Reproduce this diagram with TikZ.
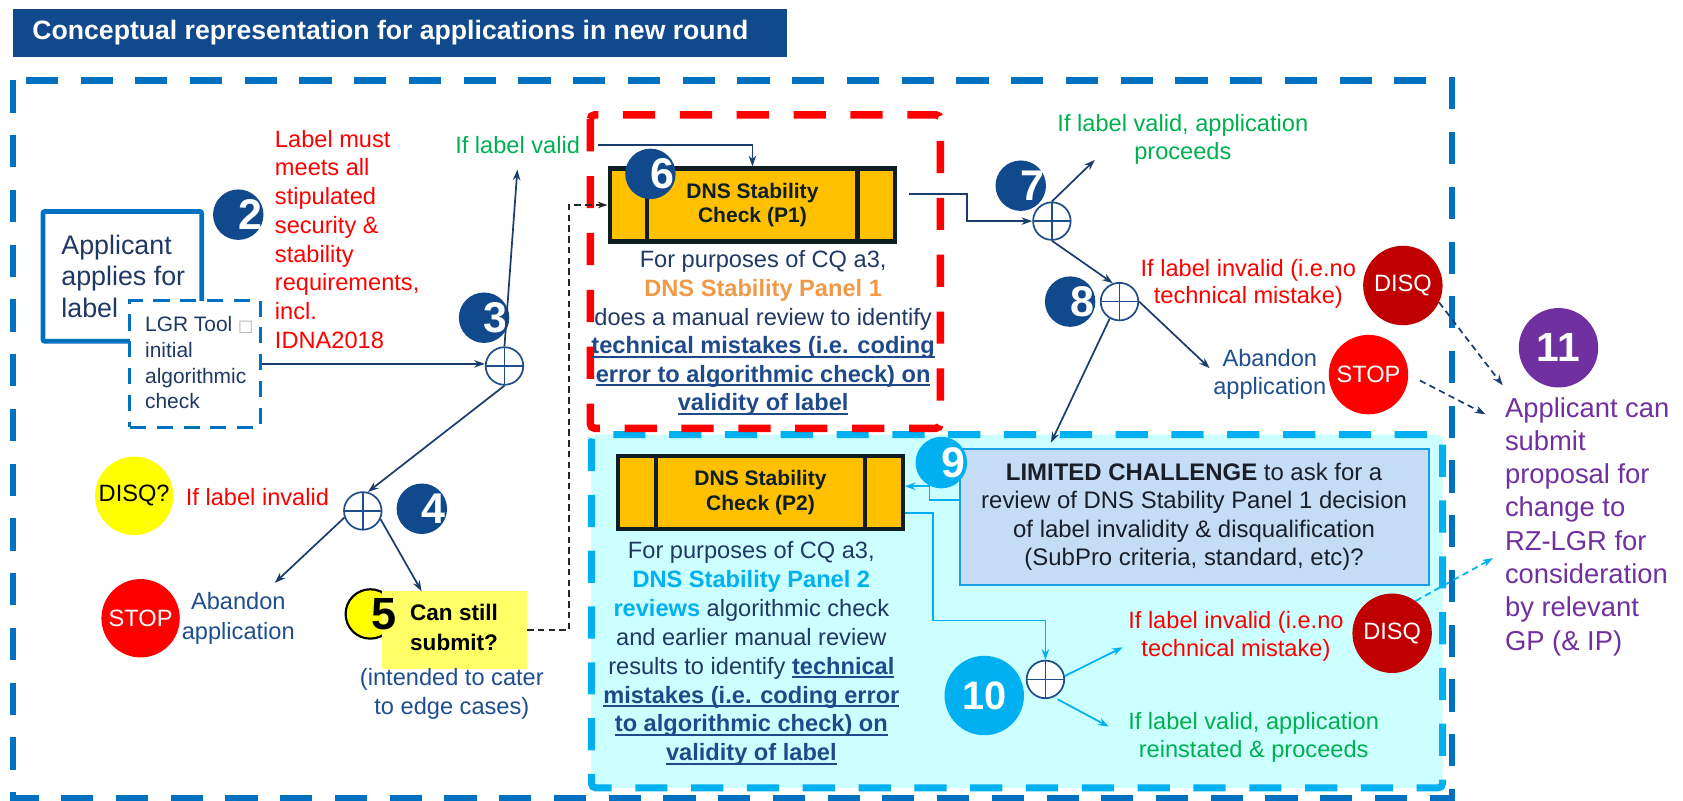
\documentclass[tikz,border=0pt]{standalone}
\usepackage{fontspec}
\setmainfont{Liberation Sans}
\newfontfamily\symfont{DejaVu Sans}
\usetikzlibrary{arrows.meta}
\definecolor{navyb}{HTML}{114A8C}
\definecolor{outerblue}{HTML}{0070C0}
\definecolor{txtnavy}{HTML}{1F3864}
\definecolor{txtblue}{HTML}{1F4E8C}
\definecolor{ulblue}{HTML}{1F4A8A}
\definecolor{redc}{HTML}{FF0000}
\definecolor{greenc}{HTML}{00B050}
\definecolor{orangec}{HTML}{F09A48}
\definecolor{purplec}{HTML}{7030A0}
\definecolor{cyanc}{HTML}{00B0F0}
\definecolor{cyanfill}{HTML}{CCFFFF}
\definecolor{lcfill}{HTML}{C5DDF4}
\definecolor{lcborder}{HTML}{1A9FE6}
\definecolor{lctext}{HTML}{1A1E28}
\definecolor{darkred}{HTML}{C00000}
\definecolor{yellowc}{HTML}{FFFF00}
\definecolor{yellowbox}{HTML}{FFFF66}
\definecolor{goldc}{HTML}{FFC000}
\definecolor{pborder}{HTML}{0E1E22}
\definecolor{arrownavy}{HTML}{1B3D6E}
\definecolor{opblue}{HTML}{1F4E8C}
\newcommand\fs[2]{\fontsize{#1}{#2}\selectfont}
\newcommand\myul[1]{\leavevmode\setbox0=\hbox{#1}\rlap{\rule[-3.6pt]{\wd0}{1.6pt}}\box0}
\begin{document}
\begin{tikzpicture}[x=1pt,y=-1pt,
  txt/.style={inner sep=0pt, font=\fs{22}{26.8}},
  bdg/.style={circle, fill=navyb, minimum size=47pt, inner sep=0pt},
  bdgcy/.style={circle, fill=cyanc, minimum size=48pt, inner sep=0pt},
  bdgnum/.style={inner sep=0pt, text=white, font=\bfseries\fs{40}{40}},
  bigbdg/.style={circle, minimum size=74pt, inner sep=0pt, text=white, font=\bfseries\fs{38}{38}},
  opl/.style={circle, draw=opblue, line width=1.6pt, fill=white, minimum size=35pt, inner sep=0pt,
    path picture={\draw[opblue, line width=1.6pt] (path picture bounding box.north) -- (path picture bounding box.south) (path picture bounding box.west) -- (path picture bounding box.east);}},
  sign/.style={circle, minimum size=73pt, inner sep=0pt, text=white, font=\fs{22}{22}},
  pbox/.style={draw=pborder, line width=4pt, fill=goldc, minimum width=266pt, minimum height=68pt, inner sep=0pt,
    align=center, text=pborder, font=\bfseries\fs{19.6}{23},
    path picture={\draw[pborder, line width=4pt] ([xshift=35pt]path picture bounding box.south west) -- ([xshift=35pt]path picture bounding box.north west) ([xshift=-35pt]path picture bounding box.south east) -- ([xshift=-35pt]path picture bounding box.north east);}},
  arr/.style={draw=arrownavy, line width=1.6pt, -{Stealth[length=10pt,width=7pt]}},
  carr/.style={draw=cyanc, line width=1.6pt, -{Stealth[length=10pt,width=7pt]}},
  darr/.style={draw=arrownavy, line width=1.6pt, dash pattern=on 6pt off 4pt, -{Stealth[length=10pt,width=7pt]}},
  cdarr/.style={draw=cyanc, line width=1.6pt, dash pattern=on 6pt off 4pt, -{Stealth[length=10pt,width=7pt]}},
  kdarr/.style={draw=black!85, line width=1.5pt, dash pattern=on 6pt off 4pt, -{Stealth[length=9pt,width=6pt]}},
]
\useasboundingbox (0,0) rectangle (1568,746);
% title
\node[fill=navyb, anchor=north west, minimum width=721pt, minimum height=45pt, inner sep=0pt] (titlebox) at (12,8) {};
\node[anchor=west, inner sep=0pt, text=white, font=\bfseries\fs{24.8}{24.8}] (title) at (30,30.5) {Conceptual representation for applications in new round};
% regions
\draw[outerblue, line width=6pt, dash pattern=on 30pt off 21pt] (12,75) rectangle (1353,744);
\draw[cyanc, fill=cyanfill, line width=6.5pt, dash pattern=on 30pt off 22pt, rounded corners=4pt] (551,405) rectangle (1344,734);
\draw[redc, line width=7pt, dash pattern=on 30pt off 23pt, rounded corners=4pt] (550,107) rectangle (876,399);
% left part
\node[draw=outerblue, line width=4.5pt, rounded corners=2pt, minimum width=148pt, minimum height=121pt] (app) at (114,257.5) {};
\node[txt, anchor=west, align=left, text=txtnavy, font=\fs{25}{29.5}] (apptxt) at (57,257.5) {Applicant\\applies for\\label};
\node[draw=outerblue, fill=white, line width=3pt, dash pattern=on 15pt off 10pt, minimum width=122pt, minimum height=118pt] (lgr) at (182,339) {};
\node[txt, anchor=west, align=left, text=txtnavy, font=\fs{19.5}{24}] (lgrtxt) at (135,338) {LGR Tool {\symfont\fs{15}{15}\color{gray!60}□}\\initial\\algorithmic\\check};
\node[txt, anchor=west, align=left, text=redc] (req) at (256,223) {Label must\\meets all\\stipulated\\security \&\\stability\\requirements,\\incl.\\IDNA2018};
\node[txt, anchor=west, text=greenc] (ilv1) at (424,135) {If label valid};
\node[opl] (o3) at (470,341) {};
\node[opl] (o4) at (338,476) {};
\node[sign, fill=yellowc, text=black] (disqq) at (125,462) {DISQ?};
\node[txt, anchor=west, text=redc] (ili1) at (173,463) {If label invalid};
\node[sign, fill=redc] (stop1) at (131,576) {STOP};
\node[txt, align=center, text=txtblue, font=\fs{22}{28}] (ab1) at (222,576) {Abandon\\application};
\node[circle, draw=black, line width=2pt, fill=yellowc, minimum size=46pt, inner sep=0pt] (c5) at (345,572) {};
\node[fill=yellowbox, minimum width=135pt, minimum height=72pt, inner sep=0pt] (yb) at (423.5,587) {};
\node[inner sep=0pt, font=\bfseries\fs{42}{42}] (c5n) at (358,572) {5};
\node[txt, align=center, font=\bfseries\fs{21}{28}] (ybtxt) at (423,585) {Can still\\submit?};
\node[txt, align=center, text=txtblue, font=\fs{22}{27}] (intd) at (421,646.5) {(intended to cater\\to edge cases)};
% P1
\node[pbox] (p1) at (701,191) {DNS Stability\\Check (P1)};
\node[txt, align=center, text=txtnavy, font=\fs{22}{26.6}] (p1d) at (711,310.5) {For purposes of CQ a3,\\{\bfseries\color{orangec}DNS Stability Panel 1}\\does a manual review to identify\\{\bfseries\color{ulblue}\myul{technical mistakes (i.e. coding}}\\{\bfseries\color{ulblue}\myul{error to algorithmic check) on}}\\{\bfseries\color{ulblue}\myul{validity of label}}};
% right top
\node[opl] (o7) at (980,206) {};
\node[txt, align=center, text=greenc, font=\fs{22}{26}] (ilv2) at (1102,130) {If label valid, application\\proceeds};
\node[opl] (o8) at (1043,281) {};
\node[txt, align=center, text=redc, font=\fs{22}{25}] (ili2) at (1163,264.5) {If label invalid (i.e.no\\technical mistake)};
\node[txt, align=center, text=txtblue, font=\fs{22}{26}] (ab2) at (1183,349) {Abandon\\application};
\node[sign, fill=darkred, minimum size=74pt] (disq1) at (1307,266) {DISQ};
\node[sign, fill=redc, minimum size=74pt] (stop2) at (1275,349) {STOP};
\node[bigbdg, fill=purplec] (b11) at (1452,324) {11};
\node[txt, anchor=west, align=left, text=purplec, font=\fs{25.5}{31}] (purp) at (1402,490.5) {Applicant can\\submit\\proposal for\\change to\\RZ-LGR for\\consideration\\by relevant\\GP (\& IP)};
% cyan region
\node[pbox, minimum width=265pt] (p2) at (708.5,459) {DNS Stability\\Check (P2)};
\node[txt, align=center, text=txtnavy, font=\fs{22}{26.86}] (p2d) at (700,609) {For purposes of CQ a3,\\{\bfseries\color{cyanc}DNS Stability Panel 2}\\{\bfseries\color{cyanc}reviews} algorithmic check\\and earlier manual review\\results to identify {\bfseries\color{ulblue}\myul{technical}}\\{\bfseries\color{ulblue}\myul{mistakes (i.e. coding error}}\\{\bfseries\color{ulblue}\myul{to algorithmic check) on}}\\{\bfseries\color{ulblue}\myul{validity of label}}};
\node[draw=lcborder, line width=2pt, fill=lcfill, minimum width=437pt, minimum height=127pt, inner sep=0pt, align=center, text=lctext, font=\fs{22.3}{26.3}] (lc) at (1112.5,481.5) {{\bfseries LIMITED CHALLENGE} to ask for a\\review of DNS Stability Panel 1 decision\\of label invalidity \& disqualification\\(SubPro criteria, standard, etc)?};
\node[opl] (o10) at (974,633) {};
\node[bigbdg, fill=cyanc, font=\bfseries\fs{37}{37}] (b10) at (917,648) {10};
\node[txt, align=center, text=redc, font=\fs{22}{26}] (ili3) at (1151.5,593) {If label invalid (i.e.no\\technical mistake)};
\node[sign, fill=darkred, minimum size=74pt] (disq2) at (1297,590) {DISQ};
\node[txt, align=center, text=greenc, font=\fs{22}{26}] (ilv3) at (1168,687) {If label valid, application\\reinstated \& proceeds};
% badges
\node[bdg] (b2) at (222,200) {};
\node[bdgnum] (b2n) at (233,200) {2};
\node[bdg] (b3) at (451,296) {};
\node[bdgnum] (b3n) at (462,296) {3};
\node[bdg] (b4) at (393,474) {};
\node[bdgnum] (b4n) at (404,474) {4};
\node[bdg] (b6) at (606,162) {};
\node[bdgnum] (b6n) at (617,162) {6};
\node[bdg] (b7) at (951,173) {};
\node[bdgnum] (b7n) at (962,173) {7};
\node[bdg] (b8) at (997,281) {};
\node[bdgnum] (b8n) at (1008,281) {8};
\node[bdgcy] (b9) at (877,431) {};
\node[bdgnum] (b9n) at (888,431) {9};
% connector end points
\coordinate (tipA) at (482,158);
\coordinate (tipB) at (1020,149);
\coordinate (tipC) at (1127,343);
\coordinate (tipE) at (256,543);
\coordinate (tipF) at (1046,603);
\coordinate (tipG) at (1033,677);
\coordinate (t11a) at (1400,359);
\coordinate (t11b) at (1384,386);
\coordinate (t11c) at (1391,520);
% connectors
\draw[arr] (lgr.east) -- (lgr.east -| o3.west);
\draw[arr] (o3.north) -- (tipA);
\draw[arr] ([xshift=17pt]ilv1.east) -| (p1.north);
\draw[kdarr] (yb.east) -- ++(39,0) |- (p1.west);
\draw[arr] ([xshift=11pt,yshift=10pt]p1.east) -- ++(54,0) |- (o7.west);
\draw[arr] (o7.north) -- (tipB);
\draw[arr] (o7.south) -- (o8.110);
\draw[arr] (o8.east) -- (tipC);
\draw[arr, shorten >=5pt] (o8.240) -- ([xshift=84pt]lc.north west);
\draw[arr] (o3.south) -- (o4.75);
\draw[arr] (o4.200) -- (tipE);
\draw[arr] (o4.-25) -- ([xshift=37pt]yb.north west);
\draw[darr] (disq1.-25) -- (t11a);
\draw[darr, shorten <=12pt] (stop2.east) -- (t11b);
\draw[cdarr] (disq2.54) -- (t11c);
\draw[carr] ([yshift=15.5pt]lc.west) -- ++(-27,0) |- ([yshift=6pt]p2.east);
\draw[carr] ([yshift=-19pt]p2.east) -- ++(26,0) -- ++(0,100) -| (o10.north);
\draw[carr] (o10.10) -- (tipF);
\draw[carr, shorten <=4pt] (o10.-65) -- (tipG);
\end{tikzpicture}
\end{document}
